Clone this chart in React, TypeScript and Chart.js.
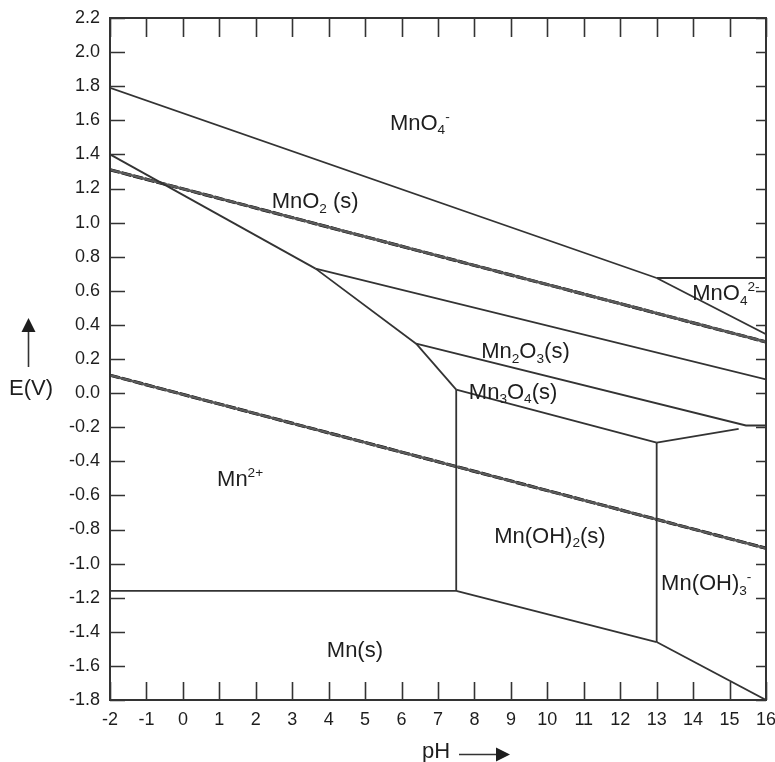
import React, { useEffect, useRef } from 'react';
import { Chart, registerables } from 'chart.js';

Chart.register(...registerables);

// ---- axis ticks ----
const X_TICKS = [-2, -1, 0, 1, 2, 3, 4, 5, 6, 7, 8, 9, 10, 11, 12, 13, 14, 15, 16];
const Y_TICKS = [-1.8, -1.6, -1.4, -1.2, -1.0, -0.8, -0.6, -0.4, -0.2, 0.0, 0.2, 0.4, 0.6, 0.8, 1.0, 1.2, 1.4, 1.6, 1.8, 2.0, 2.2];

// ---- phase boundaries: [pH, E(V)] ----
const MNO4_MNO2 = [[-2, 1.79], [13, 0.675]];
const MNO4_MNO42 = [[13, 0.675], [16, 0.675]];
const MNO42_MNO2 = [[13, 0.675], [16, 0.345]];
const MNO2_MN2 = [[-2, 1.40], [3.64, 0.73]];
const MNO2_MN2O3 = [[3.64, 0.73], [16, 0.08]];
const MN2O3_MN2 = [[3.64, 0.73], [6.40, 0.29]];
const MN3O4_MN2 = [[6.40, 0.29], [7.5, 0.02]];
const MN2O3_MN3O4 = [[6.40, 0.29], [15.45, -0.19], [16, -0.19]];
const MN2_MNOH2 = [[7.5, 0.02], [7.5, -1.16]];
const MN3O4_MNOH2 = [[7.5, 0.02], [13, -0.29]];
const MNOH2_MNOH3 = [[13, -0.29], [13, -1.46]];
const MN3O4_MNOH3 = [[13, -0.29], [15.25, -0.21]];
const MN2_MN = [[-2, -1.16], [7.5, -1.16]];
const MNOH2_MN = [[7.5, -1.16], [13, -1.46]];
const MNOH3_MN = [[13, -1.46], [16, -1.8]];

// ---- water stability lines ----
const O2_H2O = [[-2, 1.31], [16, 0.30]];
const H2O_H2 = [[-2, 0.105], [16, -0.91]];

const SOLID = [
  MNO4_MNO2, MNO4_MNO42, MNO42_MNO2, MNO2_MN2, MNO2_MN2O3, MN2O3_MN2, MN3O4_MN2,
  MN2O3_MN3O4, MN2_MNOH2, MN3O4_MNOH2, MNOH2_MNOH3, MN3O4_MNOH3, MN2_MN, MNOH2_MN, MNOH3_MN,
];
const WATER = [O2_H2O, H2O_H2];

// ---- region labels (anchor in pH / E) ----
type Part = { t: string; sub?: boolean; sup?: boolean };
const LABELS: { pH: number; E: number; parts: Part[] }[] = [
  { pH: 6.5, E: 1.59, parts: [{ t: 'MnO' }, { t: '4', sub: true }, { t: '-', sup: true }] },
  { pH: 3.63, E: 1.13, parts: [{ t: 'MnO' }, { t: '2', sub: true }, { t: ' (s)' }] },
  { pH: 14.9, E: 0.59, parts: [{ t: 'MnO' }, { t: '4', sub: true }, { t: '2-', sup: true }] },
  { pH: 9.4, E: 0.25, parts: [{ t: 'Mn' }, { t: '2', sub: true }, { t: 'O' }, { t: '3', sub: true }, { t: '(s)' }] },
  { pH: 9.06, E: 0.014, parts: [{ t: 'Mn' }, { t: '3', sub: true }, { t: 'O' }, { t: '4', sub: true }, { t: '(s)' }] },
  { pH: 1.57, E: -0.5, parts: [{ t: 'Mn' }, { t: '2+', sup: true }] },
  { pH: 10.07, E: -0.83, parts: [{ t: 'Mn(OH)' }, { t: '2', sub: true }, { t: '(s)' }] },
  { pH: 14.36, E: -1.11, parts: [{ t: 'Mn(OH)' }, { t: '3', sub: true }, { t: '-', sup: true }] },
  { pH: 4.72, E: -1.5, parts: [{ t: 'Mn(s)' }] },
];

const FONT = "'Liberation Sans', Arial, sans-serif";
const INK = '#333333';

const toPts = (a: number[][]) => a.map(([x, y]) => ({ x, y }));

function drawRich(ctx: CanvasRenderingContext2D, parts: Part[], cx: number, cy: number, size: number) {
  const small = size * 0.62;
  let w = 0;
  const widths = parts.map((p) => {
    ctx.font = `${p.sub || p.sup ? small : size}px ${FONT}`;
    const m = ctx.measureText(p.t).width;
    w += m;
    return m;
  });
  let x = cx - w / 2;
  const base = cy + size * 0.36;
  ctx.textAlign = 'left';
  ctx.textBaseline = 'alphabetic';
  parts.forEach((p, i) => {
    ctx.font = `${p.sub || p.sup ? small : size}px ${FONT}`;
    let y = base;
    if (p.sub) y = base + size * 0.2;
    if (p.sup) y = base - size * 0.42;
    ctx.fillText(p.t, x, y);
    x += widths[i];
  });
}

const decor = {
  id: 'decor',
  afterDraw(chart: any) {
    const { ctx, chartArea: a, scales } = chart;
    const xs = scales.x;
    const ys = scales.y;
    ctx.save();
    ctx.strokeStyle = INK;
    ctx.fillStyle = '#1e1e1e';
    // inward ticks
    ctx.lineWidth = 1.6;
    ctx.beginPath();
    X_TICKS.forEach((v) => {
      const px = Math.round(xs.getPixelForValue(v)) + 0.5;
      ctx.moveTo(px, a.bottom);
      ctx.lineTo(px, a.bottom - 18);
      ctx.moveTo(px, a.top);
      ctx.lineTo(px, a.top + 19);
    });
    Y_TICKS.forEach((v) => {
      const py = Math.round(ys.getPixelForValue(v)) + 0.5;
      ctx.moveTo(a.left, py);
      ctx.lineTo(a.left + 15, py);
      ctx.moveTo(a.right, py);
      ctx.lineTo(a.right - 10, py);
    });
    ctx.stroke();
    // frame
    ctx.lineWidth = 2;
    ctx.strokeRect(a.left, a.top, a.right - a.left, a.bottom - a.top);

    // region labels
    LABELS.forEach((l) => {
      drawRich(ctx, l.parts, xs.getPixelForValue(l.pH), ys.getPixelForValue(l.E), 22);
    });

    // axis titles with arrows
    ctx.font = `22px ${FONT}`;
    ctx.textAlign = 'center';
    ctx.textBaseline = 'middle';
    ctx.fillText('E(V)', 31, 389);
    ctx.lineWidth = 1.6;
    ctx.beginPath();
    ctx.moveTo(28.5, 367);
    ctx.lineTo(28.5, 328);
    ctx.stroke();
    ctx.beginPath();
    ctx.moveTo(28.5, 318);
    ctx.lineTo(21.5, 332);
    ctx.lineTo(35.5, 332);
    ctx.closePath();
    ctx.fill();

    ctx.fillText('pH', 436, 752);
    ctx.beginPath();
    ctx.moveTo(459, 754.5);
    ctx.lineTo(498, 754.5);
    ctx.stroke();
    ctx.beginPath();
    ctx.moveTo(510, 754.5);
    ctx.lineTo(496, 747.5);
    ctx.lineTo(496, 761.5);
    ctx.closePath();
    ctx.fill();
    ctx.restore();
  },
};

export default function App() {
  const ref = useRef<HTMLCanvasElement | null>(null);
  useEffect(() => {
    if (!ref.current) return;
    const datasets: any[] = [];
    SOLID.forEach((s) =>
      datasets.push({
        data: toPts(s),
        borderColor: '#333333',
        borderWidth: 1.8,
        pointRadius: 0,
        fill: false,
        tension: 0,
      })
    );
    WATER.forEach((s) => {
      datasets.push({
        data: toPts(s),
        borderColor: '#5a5a5a',
        borderWidth: 2.6,
        pointRadius: 0,
        fill: false,
      });
      datasets.push({
        data: toPts(s),
        borderColor: '#000000',
        borderWidth: 3.2,
        borderDash: [10, 2],
        pointRadius: 0,
        fill: false,
      });
    });
    const tickFont = { family: FONT, size: 18 };
    const chart = new Chart(ref.current, {
      type: 'line',
      data: { datasets },
      options: {
        animation: false,
        responsive: false,
        parsing: false,
        layout: { padding: { top: 18, right: 9, left: 0, bottom: 0 } },
        plugins: { legend: { display: false }, tooltip: { enabled: false } },
        scales: {
          x: {
            type: 'linear',
            min: -2,
            max: 16,
            afterBuildTicks: (s: any) => {
              s.ticks = X_TICKS.map((v) => ({ value: v }));
            },
            afterFit: (s: any) => {
              s.height = 62;
              s.paddingLeft = 0;
              s.paddingRight = 0;
            },
            ticks: {
              autoSkip: false,
              maxRotation: 0,
              padding: 9,
              color: '#1e1e1e',
              font: tickFont,
              callback: (v: any) => String(v),
            },
            grid: { display: false, drawTicks: false },
            border: { display: false },
          },
          y: {
            type: 'linear',
            min: -1.8,
            max: 2.2,
            afterBuildTicks: (s: any) => {
              s.ticks = Y_TICKS.map((v) => ({ value: v }));
            },
            afterFit: (s: any) => {
              s.width = 110;
              s.paddingTop = 0;
              s.paddingBottom = 0;
            },
            ticks: {
              autoSkip: false,
              padding: 10,
              color: '#1e1e1e',
              font: tickFont,
              callback: (v: any) => Number(v).toFixed(1),
            },
            grid: { display: false, drawTicks: false },
            border: { display: false },
          },
        },
      },
      plugins: [decor],
    });
    return () => chart.destroy();
  }, []);
  return (
    <div style={{ position: 'fixed', left: 0, top: 0, width: 775, height: 762, background: '#fff' }}>
      <canvas ref={ref} width={775} height={762} style={{ display: 'block' }} />
    </div>
  );
}
